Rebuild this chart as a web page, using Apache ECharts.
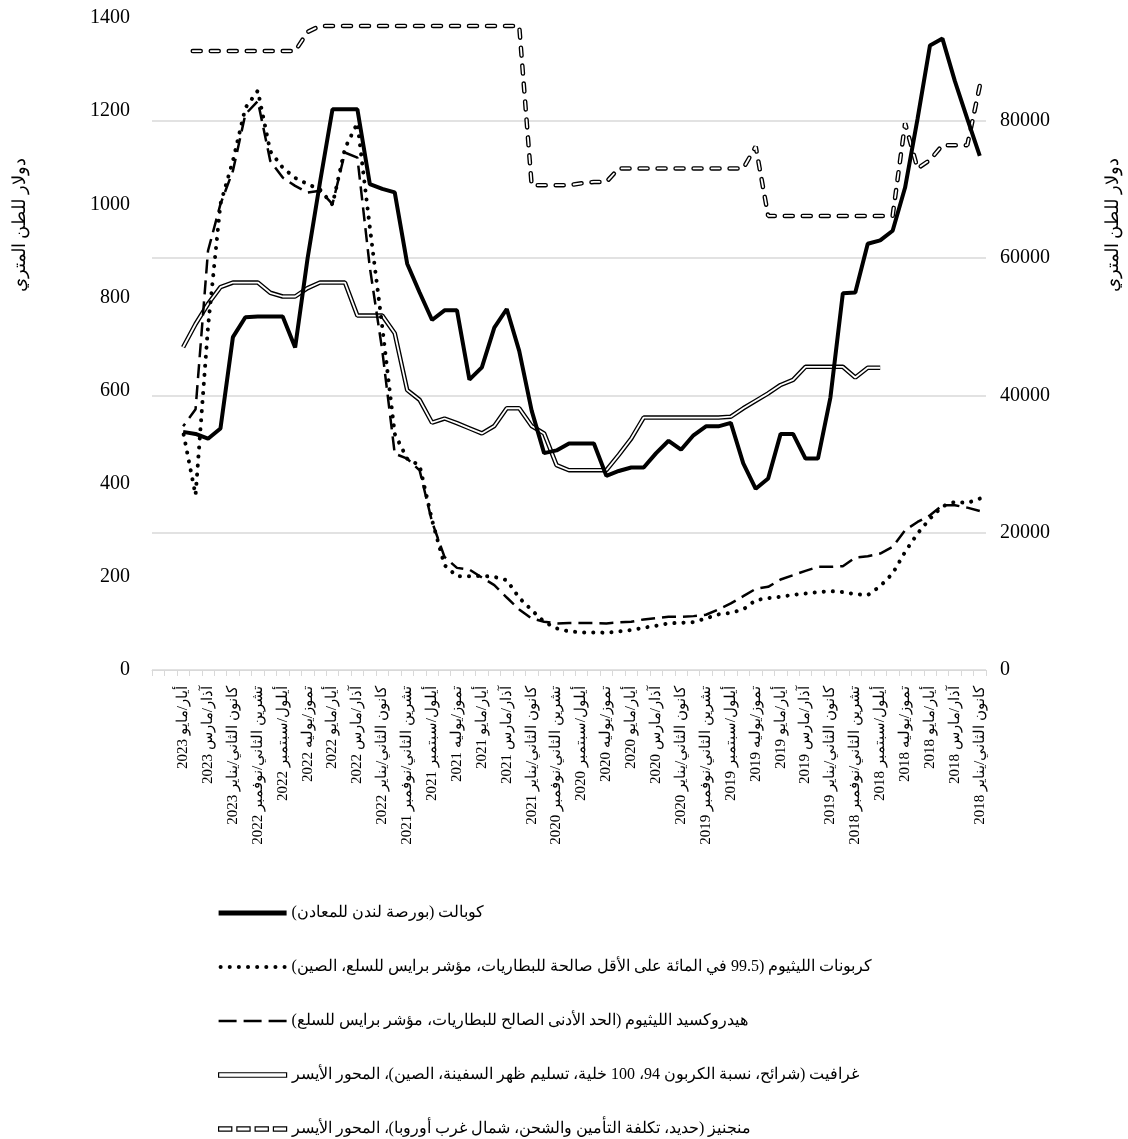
<!DOCTYPE html>
<html>
<head>
<meta charset="utf-8">
<script src="https://cdn.jsdelivr.net/npm/echarts/dist/echarts.min.js"></script>
<style>
  html, body { margin: 0; padding: 0; background: #fff; }
  #main { width: 1128px; height: 1139px; }
</style>
</head>
<body>
<div id="main"></div>
<script>
// الأشهر من كانون الثاني/يناير 2018 الى أيار/مايو 2023 (المحور معكوس)، ثم خانتان فارغتان
var months = [
  'كانون الثاني/يناير', 'شباط/فبراير', 'آذار/مارس', 'نيسان/أبريل', 'أيار/مايو', 'حزيران/يونيه',
  'تموز/يوليه', 'آب/أغسطس', 'أيلول/سبتمبر', 'تشرين الأول/أكتوبر', 'تشرين الثاني/نوفمبر', 'كانون الأول/ديسمبر'
];
var years = [2018, 2019, 2020, 2021, 2022, 2023];
var categories = [];
years.forEach(function (y) {
  months.forEach(function (m, i) {
    if (y === 2023 && i > 4) return;
    categories.push(m + ' ' + y);
  });
});
categories.push('', '');

// المحور الأيمن (دولار للطن المتري)
var cobalt = [
  74900, 80300, 85800, 92000, 91000, 80300, 70300, 64000, 62600, 62100, 55000, 54900,
  39700, 30800, 30800, 34400, 34400, 27900, 26400, 30100, 36000, 35500, 35500, 34200,
  32100, 33400, 31600, 29500, 29500, 29000, 28300, 33000, 33000, 33000, 32000, 31600,
  37800, 46500, 52600, 49900, 44100, 42300, 52400, 52400, 51000, 55000, 59200, 69600,
  70100, 70800, 81700, 81700, 81700, 71100, 60000, 47000, 51500, 51500, 51500, 51400,
  48500, 35200, 33700, 34400, 34700
];
var lithiumCarbonate = [
  24970, 24340, 24490, 23850, 22060, 19880, 17210, 14060, 12220, 10910, 11050, 11350,
  11490, 11350, 11150, 10960, 10670, 10470, 10180, 8830, 8340, 8100, 7520, 6980,
  6880, 6790, 6450, 6160, 5820, 5630, 5430, 5480, 5480, 5630, 6060, 7030,
  8730, 10520, 13090, 13570, 13720, 13670, 13670, 15270, 21820, 29820, 30790, 34400,
  50000, 64500, 79700, 76000, 67800, 70000, 70800, 71700, 73200, 75600, 84400, 81900,
  74200, 67900, 50000, 25500, 34700
];
var lithiumHydroxide = [
  23170, 23660, 24000, 24000, 22540, 21570, 20360, 17940, 16970, 16580, 16390, 15130,
  15030, 15030, 14450, 13820, 13190, 12120, 11830, 10760, 9700, 8830, 8050, 7850,
  7750, 7750, 7560, 7370, 7030, 6930, 6790, 6840, 6840, 6840, 6790, 7030,
  7520, 8830, 10560, 12360, 13480, 14640, 14880, 16480, 21570, 29090, 30790, 31520,
  46540, 58660, 74660, 75390, 67880, 69820, 69570, 70540, 71750, 74180, 82900, 80970,
  72720, 67880, 61090, 38000, 35500
];
// المحور الأيسر
var graphite = [
  null, null, null, null, null, null, null, null, 649, 649, 628, 651,
  651, 651, 651, 623, 612, 594, 578, 562, 544, 542, 542, 542,
  542, 542, 542, 542, 497, 462, 429, 429, 429, 429, 440, 508,
  524, 562, 562, 524, 508, 519, 530, 540, 531, 580, 601, 723,
  761, 761, 761, 832, 832, 832, 820, 802, 802, 810, 832, 832,
  832, 822, 786, 743, 693
];
var manganese = [
  1254, 1127, 1127, 1127, 1095, 1077, 1174, 975, 975, 975, 975, 975,
  975, 975, 975, 975, 975, 975, 1124, 1077, 1077, 1077, 1077, 1077,
  1077, 1077, 1077, 1077, 1077, 1077, 1048, 1048, 1045, 1041, 1041, 1041,
  1041, 1383, 1383, 1383, 1383, 1383, 1383, 1383, 1383, 1383, 1383, 1383,
  1383, 1383, 1383, 1383, 1383, 1383, 1370, 1329, 1329, 1329, 1329, 1329,
  1329, 1329, 1329, 1329, 1329
];

var leftTicks = { min: 0, max: 1400, interval: 200 };
var rightTicks = { min: 0, max: 95000, interval: 20000 };

var names = [
  'كوبالت (بورصة لندن للمعادن)',
  'كربونات الليثيوم (99.5 في المائة على الأقل صالحة للبطاريات، مؤشر برايس للسلع، الصين)',
  'هيدروكسيد الليثيوم (الحد الأدنى الصالح للبطاريات، مؤشر برايس للسلع)',
  'غرافيت (شرائح، نسبة الكربون 94، 100 خلية، تسليم ظهر السفينة، الصين)، المحور الأيسر',
  'منجنيز (حديد، تكلفة التأمين والشحن، شمال غرب أوروبا)، المحور الأيسر'
];
var axisName = 'دولار للطن المتري';
var FONT = '"Liberation Serif", "Times New Roman", serif';

// ايقونات المفتاح
var dots = '';
for (var i = 0; i < 8; i++) {
  var cx = 2 + i * 9;
  dots += 'M' + (cx - 2) + ',2a2,2 0 1,0 4,0a2,2 0 1,0 -4,0Z';
}
var dashIcon = 'path://M0,0h18v2.5h-18zM25,0h18v2.5h-18zM50,0h18v2.5h-18z';
var capsIcon = 'path://M0,0h13v4h-13zM18,0h13v4h-13zM36,0h13v4h-13zM54,0h13v4h-13z';

var myChart = echarts.init(document.getElementById('main'));
var option = {
  animation: false,
  backgroundColor: '#fff',
  textStyle: { fontFamily: FONT },
  grid: { left: 152, right: 142, top: 18, bottom: 469 },
  legend: {
    orient: 'vertical',
    left: 213,
    top: 900,
    height: 300,
    itemWidth: 68,
    itemHeight: 5,
    itemGap: 38,
    selectedMode: false,
    textStyle: { fontSize: 16, color: '#000', fontFamily: FONT, lineHeight: 16 },
    data: [
      { name: names[0], icon: 'rect', itemStyle: { color: '#000' } },
      { name: names[1], icon: 'path://' + dots, itemStyle: { color: '#000' } },
      { name: names[2], icon: dashIcon, itemStyle: { color: '#000' } },
      { name: names[3], icon: 'path://M0,0h68v4.5h-68z', itemStyle: { color: '#fff', borderColor: '#000', borderWidth: 1.2 } },
      { name: names[4], icon: capsIcon, itemStyle: { color: '#fff', borderColor: '#000', borderWidth: 1.2 } }
    ]
  },
  graphic: [
    { type: 'text', x: 20, y: 225, rotation: Math.PI / 2,
      style: { text: axisName, font: '18px ' + FONT, fill: '#000', align: 'center', verticalAlign: 'middle' } },
    { type: 'text', x: 1113, y: 225, rotation: Math.PI / 2,
      style: { text: axisName, font: '18px ' + FONT, fill: '#000', align: 'center', verticalAlign: 'middle' } }
  ],
  xAxis: {
    type: 'category',
    data: categories,
    inverse: true,
    boundaryGap: true,
    axisLine: { lineStyle: { color: '#d9d9d9', width: 1 } },
    axisTick: { show: true, interval: 0, length: 6, lineStyle: { color: '#d9d9d9' } },
    axisLabel: { interval: 1, rotate: 90, fontSize: 15, color: '#000', fontFamily: FONT, margin: 16 },
    splitLine: { show: false }
  },
  yAxis: [
    {
      type: 'value',
      position: 'left',
      min: leftTicks.min, max: leftTicks.max, interval: leftTicks.interval,
      axisLine: { show: false },
      axisTick: { show: false },
      splitLine: { show: false },
      axisLabel: { fontSize: 20, color: '#000', fontFamily: FONT, margin: 22,
        formatter: function (v) { return String(v); } }
    },
    {
      type: 'value',
      position: 'right',
      min: rightTicks.min, max: rightTicks.max, interval: rightTicks.interval,
      axisLine: { show: false },
      axisTick: { show: false },
      splitLine: { show: true, showMaxLine: false, lineStyle: { color: '#d9d9d9', width: 1.5 } },
      axisLabel: { fontSize: 20, color: '#000', fontFamily: FONT, margin: 14,
        showMaxLabel: false,
        formatter: function (v) { return v % 20000 === 0 ? String(v) : ''; } }
    }
  ],
  series: [
    { name: names[4], type: 'line', yAxisIndex: 0, data: manganese, symbol: 'none', silent: true, z: 2,
      lineStyle: { color: '#000', width: 4.5, type: [8, 10], cap: 'round' } },
    { name: 'mn-inner', type: 'line', yAxisIndex: 0, data: manganese, symbol: 'none', silent: true, z: 3,
      lineStyle: { color: '#fff', width: 1.8, type: [8, 10], cap: 'round' } },
    { name: names[3], type: 'line', yAxisIndex: 0, data: graphite, symbol: 'none', silent: true, z: 2,
      lineStyle: { color: '#000', width: 4.5 } },
    { name: 'gr-inner', type: 'line', yAxisIndex: 0, data: graphite, symbol: 'none', silent: true, z: 3,
      lineStyle: { color: '#fff', width: 1.8 } },
    { name: names[2], type: 'line', yAxisIndex: 1, data: lithiumHydroxide, symbol: 'none', silent: true, z: 4,
      lineStyle: { color: '#000', width: 2.5, type: [14, 7] } },
    { name: names[1], type: 'line', yAxisIndex: 1, data: lithiumCarbonate, symbol: 'none', silent: true, z: 4,
      lineStyle: { color: '#000', width: 4, type: [0.1, 9], cap: 'round' } },
    { name: names[0], type: 'line', yAxisIndex: 1, data: cobalt, symbol: 'none', silent: true, z: 5,
      lineStyle: { color: '#000', width: 4 } }
  ]
};
myChart.setOption(option, true);
window.addEventListener('resize', function () {
  myChart.resize();
});
</script>
</body>
</html>
